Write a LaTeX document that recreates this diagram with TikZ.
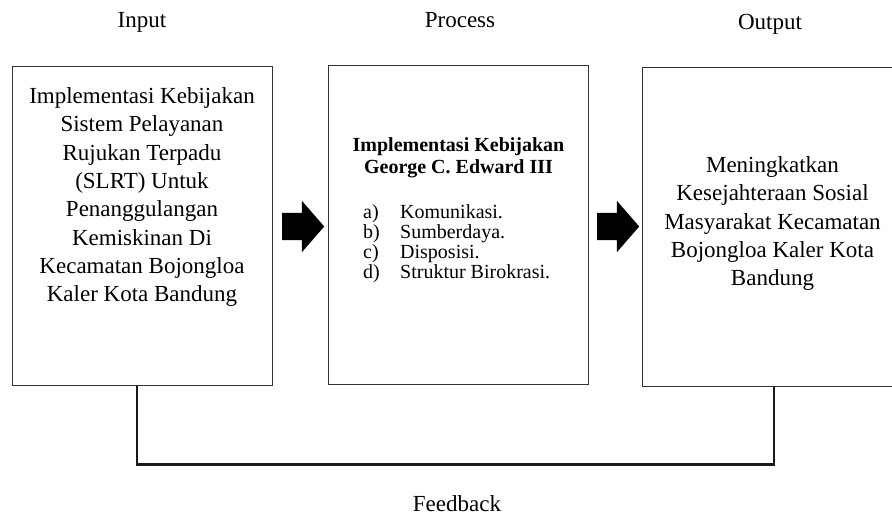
\documentclass[tikz,border=0pt]{standalone}
\usepackage{fontspec}
\setmainfont{Liberation Serif}
\usetikzlibrary{shapes.arrows}

\begin{document}
\begin{tikzpicture}[x=1pt,y=-1pt,box/.style={draw=black!80,line width=1pt,minimum width=260pt,minimum height=319pt,inner sep=0pt},txt/.style={align=center,inner sep=0pt,anchor=north,font=\fontsize{23}{28.3}\selectfont},head/.style={inner sep=0pt,anchor=base,font=\fontsize{23}{28}\selectfont},bigarrow/.style={single arrow,fill=black,draw=none,inner xsep=0pt,inner ysep=13.5pt,minimum height=42pt,minimum width=51pt,single arrow head extend=12pt,single arrow tip angle=98,single arrow head indent=0pt,anchor=tail},feedback/.style={line width=2.6pt,draw=black!90}]
\useasboundingbox (0,0) rectangle (892,515);
\clip (0,0) rectangle (892,515);
\node[head] (hin) at (142,27) {Input};
\node[head] (hproc) at (460,27) {Process};
\node[head] (hout) at (770,29) {Output};
\node[box] (input) at (142,225.5) {};
\node[box] (process) at (458.5,225) {};
\node[box] (output) at (772.5,226.5) {};
\node[txt] (intext) at ([yshift=-22pt]input.north) {Implementasi Kebijakan\\Sistem Pelayanan\\Rujukan Terpadu\\(SLRT) Untuk\\Penanggulangan\\Kemiskinan Di\\Kecamatan Bojongloa\\Kaler Kota Bandung};
\node[txt,font=\fontsize{20}{22}\selectfont\bfseries] (proctitle) at ([yshift=-72pt]process.north) {Implementasi Kebijakan\\George C. Edward III};
\node[inner sep=0pt,anchor=north west,font=\fontsize{20}{20}\selectfont] (proclist) at (363,204) {\begin{tabular}{@{}p{37pt}@{}l@{}}
a) & Komunikasi.\\
b) & Sumberdaya.\\
c) & Disposisi.\\
d) & Struktur Birokrasi.
\end{tabular}};
\node[txt] (outtext) at ([yshift=-90pt]output.north) {Meningkatkan\\Kesejahteraan Sosial\\Masyarakat Kecamatan\\Bojongloa Kaler Kota\\Bandung};
\node[bigarrow] (arr1) at (282,226.5) {};
\node[bigarrow] (arr2) at (597,226.5) {};
\draw[feedback] ([xshift=-5pt]input.south) -- ++(0,79) -| ([xshift=1.5pt]output.south);
\node[head] (fblabel) at (457,511) {Feedback};
\end{tikzpicture}
\end{document}
